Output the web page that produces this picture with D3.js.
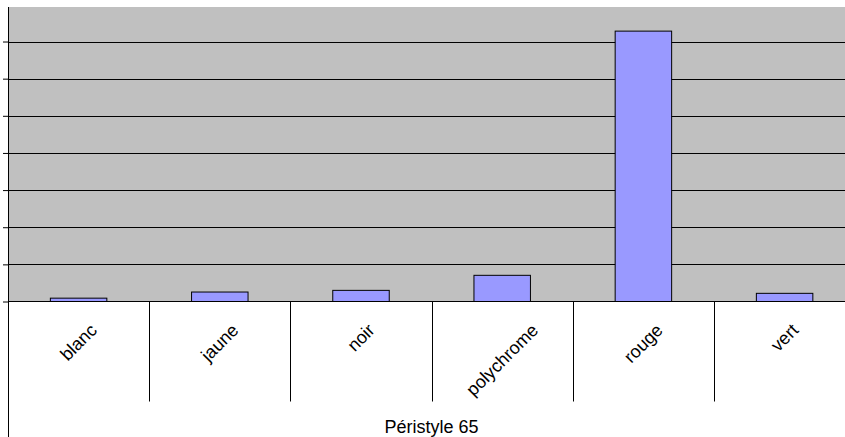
<!DOCTYPE html>
<html><head><meta charset="utf-8">
<script src="https://cdn.jsdelivr.net/npm/d3@7"></script>
<style>body{margin:0;background:#fff}svg{display:block}</style>
</head><body>
<svg id="c" width="845" height="437"></svg>
<script>
const categories = ["blanc","jaune","noir","polychrome","rouge","vert"];
const values = [0.9, 2.55, 3.0, 7.05, 72.8, 2.2];
const groupLabel = "Péristyle 65";
const yTicks = [0,10,20,30,40,50,60,70];

(function(){
const svg = d3.select("#c");
const pL = 8, pR = 855.2, pT = 7, pB = 301.5;
const x = d3.scaleBand().domain(categories).range([pL, pR]).paddingInner(0).paddingOuter(0);
const y = d3.scaleLinear().domain([0, 80]).range([pB, pB - 8*37.14]);
const font = "Liberation Sans, Arial, sans-serif";

svg.append("rect").attr("x", pL).attr("y", pT).attr("width", pR-pL).attr("height", pB-pT).attr("fill", "#c0c0c0");

// gridlines
svg.append("g").selectAll("line").data(yTicks.filter(d=>d>0)).join("line")
  .attr("x1", pL).attr("x2", pR).attr("y1", d=>Math.round(y(d))+0.5).attr("y2", d=>Math.round(y(d))+0.5)
  .attr("stroke", "#000").attr("stroke-width", 1);

// bars
const bw = x.bandwidth()*0.4;
svg.append("g").selectAll("rect").data(categories).join("rect")
  .attr("x", (d)=>x(d)+x.bandwidth()/2-bw/2)
  .attr("y", (d,i)=>y(values[i]))
  .attr("width", bw)
  .attr("height", (d,i)=>y(0)-y(values[i]))
  .attr("fill", "#9999ff").attr("stroke", "#000").attr("stroke-width", 1);

// y axis
const ya = svg.append("g").attr("transform", `translate(${pL},0)`)
  .call(d3.axisLeft(y).tickValues(yTicks).tickSize(5).tickFormat(""));
ya.select(".domain").remove();
ya.selectAll("line").attr("stroke", "#000");
svg.append("line").attr("x1", pL+0.5).attr("x2", pL+0.5).attr("y1", pT).attr("y2", 437).attr("stroke", "#000");
// bottom axis
svg.append("line").attr("x1", pL).attr("x2", pR).attr("y1", pB).attr("y2", pB).attr("stroke", "#000");

// category separators
const seps = categories.slice(1).map(d=>x(d)).concat([pR]);
svg.append("g").selectAll("line").data(seps).join("line")
  .attr("x1", d=>Math.round(d)+0.5).attr("x2", d=>Math.round(d)+0.5)
  .attr("y1", pB).attr("y2", 401.5).attr("stroke", "#000");

// rotated labels
const fs = 18;
const lab = svg.append("g").selectAll("text").data(categories).join("text")
  .attr("font-family", font).attr("font-size", fs).attr("text-anchor", "middle")
  .attr("dominant-baseline", "central").attr("fill", "#000").text(d=>d);
lab.each(function(d){
  const w = this.getComputedTextLength();
  const ext = (w + fs*0.8)*Math.SQRT1_2;
  const cx = x(d)+x.bandwidth()/2;
  const cy = 322 + ext/2;
  d3.select(this).attr("transform", `translate(${cx},${cy}) rotate(-45)`);
});

svg.append("text").attr("x", (pL+pR)/2).attr("y", 432.5).attr("text-anchor", "middle")
  .attr("font-family", font).attr("font-size", fs).attr("fill", "#000").text(groupLabel);
})();
</script>
</body></html>
